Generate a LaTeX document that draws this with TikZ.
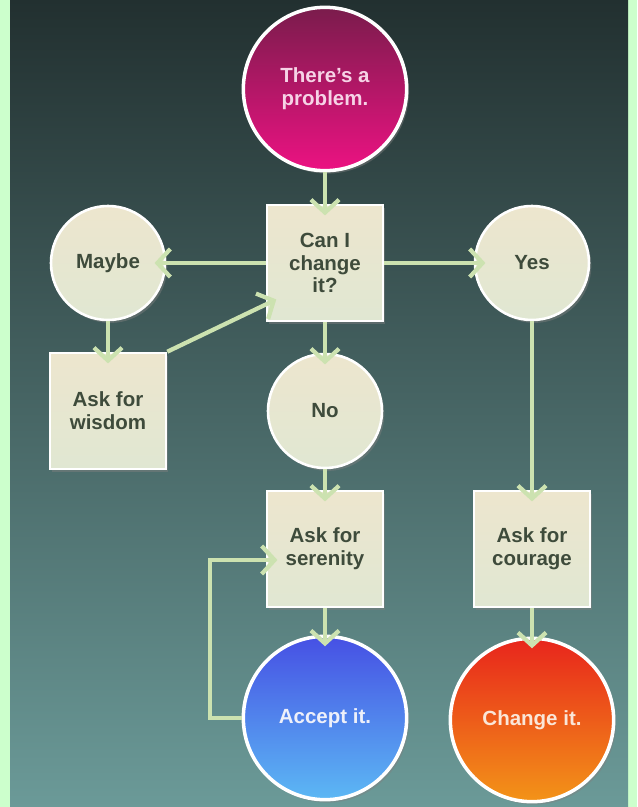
\documentclass[tikz,border=0pt]{standalone}
\usepackage{fontspec}
\setmainfont{Liberation Sans}
\definecolor{stripgreen}{HTML}{CCFFCC}
\definecolor{boardtop}{HTML}{223030}
\definecolor{boardmid}{HTML}{3B5E62}
\definecolor{boardbot}{HTML}{6B9A98}
\definecolor{cream}{HTML}{EDE6CE}
\definecolor{creamlow}{HTML}{E0E7D2}
\definecolor{inkgreen}{HTML}{3E4B3B}
\definecolor{arrowgreen}{HTML}{CCE2B0}
\definecolor{problemtop}{HTML}{7A1C4C}
\definecolor{problembot}{HTML}{EC1282}
\definecolor{problemtext}{HTML}{F6D3E6}
\definecolor{accepttop}{HTML}{4650E4}
\definecolor{acceptbot}{HTML}{5CB8F4}
\definecolor{accepttext}{HTML}{EEF0FA}
\definecolor{changetop}{HTML}{E8251C}
\definecolor{changebot}{HTML}{F39418}
\definecolor{changetext}{HTML}{FAE6D8}
\usetikzlibrary{arrows.meta, shadows}

\begin{document}
\begin{tikzpicture}[
  x=0.03cm, y=-0.03cm,
  txt/.style={font=\fontsize{17.5}{19.5}\selectfont\bfseries, align=center},
  base/.style={txt, draw=white, line width=2.2pt, drop shadow={opacity=0.45, shadow xshift=2pt, shadow yshift=-2.5pt}},
  ask/.style={base, rectangle, minimum size=3.48cm, top color=cream, bottom color=creamlow, text=inkgreen},
  choice/.style={base, circle, minimum size=3.42cm, top color=cream, bottom color=creamlow, text=inkgreen},
  outcome/.style={base, circle, minimum size=4.9cm, line width=3pt},
  arr/.style={-{Straight Barb[length=11pt, width=24pt]}, line width=3.6pt, arrowgreen, shorten >=-10pt},
]

% Board
\fill[stripgreen] (0,0) rectangle (637,807);
\shade[top color=boardtop, middle color=boardmid, bottom color=boardbot] (10,0) rectangle (628,807);

% Start
\node[outcome, top color=problemtop, bottom color=problembot, text=problemtext] (problem) at (325,89) {There’s a\\problem.};

% Question and answers
\node[ask] (canchange) at (325,263) {Can I\\change\\it?};
\node[choice] (maybe) at (108,263) {Maybe};
\node[choice] (yes) at (532,263) {Yes};
\node[choice] (no) at (325,411) {No};

% Asking
\node[ask] (wisdom) at (108,411) {Ask for\\wisdom};
\node[ask] (serenity) at (325,549) {Ask for\\serenity};
\node[ask] (courage) at (532,549) {Ask for\\courage};

% Outcomes
\node[outcome, top color=accepttop, bottom color=acceptbot, text=accepttext] (accept) at (325,718) {Accept it.};
\node[outcome, top color=changetop, bottom color=changebot, text=changetext] (changeit) at (532,720) {Change it.};

% Arrows
\draw[arr] (problem) -- (canchange);
\draw[arr] (canchange) -- (maybe);
\draw[arr] (canchange) -- (yes);
\draw[arr] (canchange) -- (no);
\draw[arr] (maybe) -- (wisdom);
\draw[arr] (wisdom.north east) -- (canchange.215);
\draw[arr] (no) -- (serenity);
\draw[arr] (yes) -- (courage);
\draw[arr] (serenity) -- (accept);
\draw[arr] (courage) -- (changeit);
\coordinate (loopcorner) at (210,560);
\draw[arr] (accept.west) -| (loopcorner) -- (serenity.west |- loopcorner);

\end{tikzpicture}
\end{document}
